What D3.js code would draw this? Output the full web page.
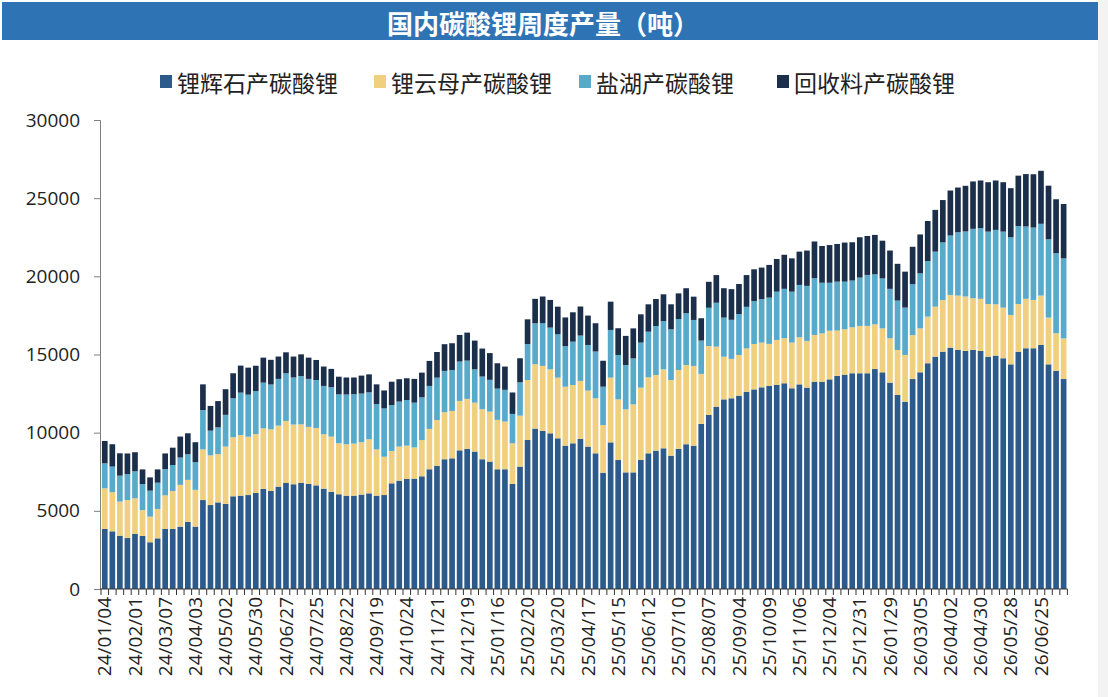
<!DOCTYPE html>
<html><head><meta charset="utf-8">
<script src="https://cdn.jsdelivr.net/npm/d3@7/dist/d3.min.js"></script>
<style>
html,body{margin:0;padding:0;background:#fff;}
svg{display:block;}
</style></head>
<body>
<svg id="chart" width="1108" height="697"></svg>
<script>
const categories = [
"24/01/04","24/01/11","24/01/18","24/01/25","24/02/01","24/02/08","24/02/22","24/02/29",
"24/03/07","24/03/14","24/03/21","24/03/28","24/04/03","24/04/11","24/04/18","24/04/25",
"24/05/02","24/05/09","24/05/16","24/05/23","24/05/30","24/06/06","24/06/13","24/06/20",
"24/06/27","24/07/04","24/07/11","24/07/18","24/07/25","24/08/01","24/08/08","24/08/15",
"24/08/22","24/08/29","24/09/05","24/09/12","24/09/19","24/09/26","24/10/10","24/10/17",
"24/10/24","24/10/31","24/11/07","24/11/14","24/11/21","24/11/28","24/12/05","24/12/12",
"24/12/19","24/12/26","25/01/02","25/01/09","25/01/16","25/01/23","25/02/06","25/02/13",
"25/02/20","25/02/27","25/03/06","25/03/13","25/03/20","25/03/27","25/04/03","25/04/10",
"25/04/17","25/04/24","25/05/01","25/05/08","25/05/15","25/05/22","25/05/29","25/06/05",
"25/06/12","25/06/19","25/06/26","25/07/03","25/07/10","25/07/17","25/07/24","25/07/31",
"25/08/07","25/08/14","25/08/21","25/08/28","25/09/04","25/09/11","25/09/18","25/09/25",
"25/10/09","25/10/16","25/10/23","25/10/30","25/11/06","25/11/13","25/11/20","25/11/27",
"25/12/04","25/12/11","25/12/18","25/12/25","25/12/31","26/01/08","26/01/15","26/01/22",
"26/01/29","26/02/05","26/02/12","26/02/26","26/03/05","26/03/12","26/03/19","26/03/26",
"26/04/02","26/04/09","26/04/16","26/04/23","26/04/30","26/05/07","26/05/14","26/05/21",
"26/05/28","26/06/04","26/06/11","26/06/18","26/06/25","26/07/02","26/07/09","26/07/16"
];

// 锂辉石产碳酸锂
const spodumene = [
3840,3690,3410,3260,3520,3390,2990,3240,
3840,3840,3990,4290,3990,5690,5370,5540,
5440,5930,5970,6010,6140,6400,6270,6550,
6780,6700,6780,6720,6630,6420,6210,6060,
5970,5970,6040,6120,5970,6010,6760,6930,
7040,7060,7210,7660,7870,8300,8360,8870,
8960,8790,8300,8150,7660,7660,6720,7830,
9530,10260,10110,9960,9640,9170,9320,9600,
9110,8680,7440,9380,8250,7460,7460,8250,
8680,8850,9000,8530,8960,9260,9170,10560,
11130,11660,12130,12200,12370,12620,12770,12900,
12990,13050,13160,12840,13090,12880,13260,13260,
13410,13630,13710,13800,13800,13800,14070,13860,
13200,12410,11980,13430,13860,14440,14860,15180,
15440,15290,15230,15290,15230,14860,14930,14760,
14370,15180,15400,15400,15610,14370,13950,13430
];
// 锂云母产碳酸锂
const lepidolite = [
2600,2500,2180,2430,2280,1660,1640,1880,
2150,2430,2670,2690,2350,3240,3180,3090,
3670,3780,3880,3730,3770,3880,3950,3900,
3970,3820,3750,3650,3670,3480,3540,3260,
3290,3330,3350,3460,2960,2450,2070,2180,
2130,2000,2320,2580,2940,3010,3030,3160,
3200,3130,3200,3200,3160,3050,2600,3260,
3840,4120,4160,4090,3880,3770,3730,3710,
3580,3520,3050,4140,3880,4030,4350,4630,
4860,4840,5050,4840,5050,5070,5100,3200,
4410,3840,2730,2520,2600,2770,2900,2860,
2690,2880,2880,2920,3010,2990,2990,3090,
3110,2900,2900,2940,3030,3030,2860,2810,
2840,2880,2990,2810,2810,2980,3200,3300,
3370,3480,3480,3310,3330,3370,3280,3240,
3160,3050,3160,3090,3160,2990,2410,2600
];
// 盐湖产碳酸锂
const brine = [
1600,1640,1660,1660,1730,1660,1660,1680,
1680,1660,1750,1640,1770,2520,1580,1710,
2030,2490,2710,2690,2750,2920,2860,2990,
3050,3010,3090,3070,3070,3090,3160,3130,
3180,3160,3110,3000,2900,3090,2940,2880,
2920,2860,2730,2750,2710,2640,2620,2520,
2450,2130,2090,2030,2000,2030,1880,2130,
2300,2620,2730,2670,2770,2600,2770,2900,
2920,2990,2450,3050,2840,2840,2940,2880,
2920,3130,3090,3240,3260,3310,2940,2130,
2450,2810,2500,2500,2620,2660,2750,2790,
2960,3090,3160,3260,3350,3520,3630,3240,
3070,3130,3050,2990,3090,3260,3200,3200,
3160,3160,3030,3260,3520,3560,3520,3690,
3800,4050,4160,4440,4520,4630,4760,4860,
4970,4990,4630,4630,4590,5010,5120,5120
];
// 回收料产碳酸锂
const recycle = [
1430,1430,1430,1320,1220,940,850,850,
1000,1110,1340,1340,1280,1640,1580,1680,
1640,1600,1730,1730,1620,1600,1580,1430,
1340,1340,1390,1360,1280,1240,1170,1130,
1090,1070,1150,1150,1260,1150,1490,1430,
1390,1520,1580,1600,1640,1710,1710,1700,
1790,1840,1790,1710,1620,1490,1370,1540,
1580,1560,1710,1770,1770,1830,1880,1860,
1880,1810,1660,1810,1710,1860,1920,1810,
1750,1730,1710,1600,1640,1600,1490,1430,
1660,1770,1880,1960,1920,2030,2030,2010,
2090,2090,2180,2130,2130,2260,2350,2350,
2410,2410,2500,2450,2580,2490,2520,2410,
2450,2350,2300,2390,2490,2560,2670,2710,
2880,2860,2920,3030,3050,3160,3160,3160,
3140,3220,3350,3410,3390,3430,3450,3480
];

const seriesNames = ["锂辉石产碳酸锂","锂云母产碳酸锂","盐湖产碳酸锂","回收料产碳酸锂"];
const seriesColors = ["#2C5A8A","#F0D07E","#58AACB","#1B2F4B"];
const yTicks = [0,5000,10000,15000,20000,25000,30000];
const title = "国内碳酸锂周度产量（吨）";

const svg = d3.select("#chart");
const W = 1108, H = 697;
const margin = {left:101, right:1067.4, top:120, bottom:589};

svg.append("rect").attr("x",0).attr("y",0).attr("width",W).attr("height",H).attr("fill","#fff");
svg.append("rect").attr("x",1098).attr("y",0).attr("width",10).attr("height",H).attr("fill","#f3f3f3");
svg.append("rect").attr("x",2).attr("y",2).attr("width",1096).attr("height",38).attr("fill","#2E74B5");
svg.append("text").attr("x",543).attr("y",22).attr("text-anchor","middle")
  .attr("dominant-baseline","central")
  .style("font-family","'Noto Sans CJK SC','Noto Sans',sans-serif").style("font-weight","bold")
  .style("font-size","26px").attr("fill","#fff").text(title);

// legend
const legendX = [160, 374, 579, 777];
const lg = svg.append("g");
seriesNames.forEach((n,i)=>{
  lg.append("rect").attr("x",legendX[i]).attr("y",75).attr("width",12).attr("height",13).attr("fill",seriesColors[i]);
  lg.append("text").attr("x",legendX[i]+17).attr("y",82).attr("dominant-baseline","central")
    .style("font-family","'Noto Sans CJK SC',sans-serif").style("font-size","23px")
    .attr("fill","#222").text(n);
});

const x = d3.scaleBand().domain(categories).range([margin.left, margin.right])
  .paddingInner(0.25).paddingOuter(0.125);
const y = d3.scaleLinear().domain([0,30000]).range([margin.bottom, margin.top]);

const table = categories.map((c,i)=>({cat:c, s0:spodumene[i], s1:lepidolite[i], s2:brine[i], s3:recycle[i]}));
const stack = d3.stack().keys(["s0","s1","s2","s3"]);
const layers = stack(table);

svg.append("g").selectAll("g").data(layers).join("g")
  .attr("fill",(d,i)=>seriesColors[i])
  .selectAll("rect").data(d=>d).join("rect")
  .attr("x",d=>x(d.data.cat))
  .attr("width",x.bandwidth())
  .attr("y",d=>y(d[1]))
  .attr("height",d=>y(d[0])-y(d[1]));

// y axis
const yAxis = d3.axisLeft(y).tickValues(yTicks).tickSize(6).tickPadding(14).tickFormat(d3.format("d"));
const gy = svg.append("g").attr("transform",`translate(${margin.left-1},0)`).call(yAxis);
gy.select(".domain").attr("stroke","#7f7f7f");
gy.selectAll(".tick line").attr("stroke","#7f7f7f");
gy.selectAll("text").style("font-family","'Open Sans',sans-serif").style("font-size","19px").attr("fill","#222");

// x axis
const step = x.step();
const xAxis = d3.axisBottom(x).tickValues(categories.filter((d,i)=>i%4===0)).tickSize(0).tickPadding(8);
const gx = svg.append("g").attr("transform",`translate(0,${margin.bottom})`).call(xAxis);
gx.select(".domain").attr("d",`M${margin.left-1},0H${margin.left + step*categories.length}`).attr("stroke","#333").attr("stroke-width",1.2);
gx.selectAll("text")
  .style("font-family","'Open Sans',sans-serif").style("font-size","19px").attr("fill","#222")
  .attr("text-anchor","end")
  .attr("transform","rotate(-90)")
  .attr("x",-8).attr("y",0).attr("dy","0.35em");
const bounds = d3.range(categories.length+1).map(i=>margin.left + step*i);
svg.append("g").selectAll("line").data(bounds).join("line")
  .attr("x1",d=>d).attr("x2",d=>d).attr("y1",margin.bottom).attr("y2",margin.bottom+6)
  .attr("stroke","#333").attr("stroke-width",1);
</script>
</body></html>
